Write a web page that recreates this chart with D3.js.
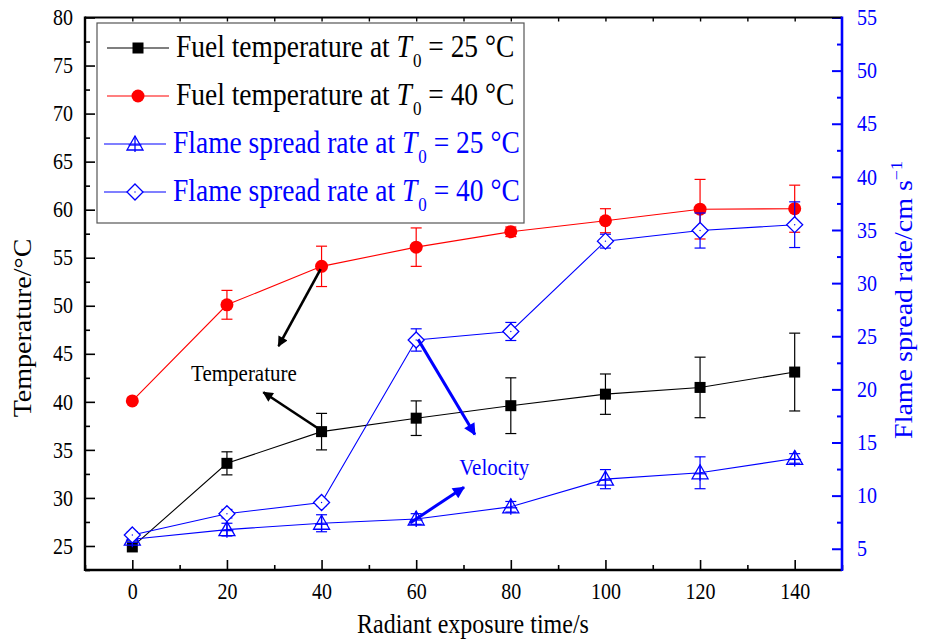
<!DOCTYPE html>
<html>
<head>
<meta charset="utf-8">
<script src="https://cdn.jsdelivr.net/npm/d3@7"></script>
<style>
  html, body { margin: 0; padding: 0; background: #fff; }
  svg { display: block; font-family: "Liberation Serif", "Times New Roman", serif; }
</style>
</head>
<body>
<svg id="chart" width="927" height="642"></svg>
<script>
// Radiant exposure time (s)
const times = [0, 20, 40, 60, 80, 100, 120, 140];

// Fuel temperature (°C), left axis
const fuel25 = [24.9, 33.6, 36.9, 38.3, 39.6, 40.8, 41.5, 43.1];
const fuel25Err = [0, 1.2, 1.9, 1.8, 2.9, 2.1, 3.15, 4.05];
const fuel40 = [40.1, 50.1, 54.1, 56.1, 57.7, 58.85, 60.05, 60.1];
const fuel40Err = [0, 1.5, 2.1, 2.0, 0.5, 1.25, 3.1, 2.45];

// Flame spread rate (cm/s), right axis
const spread25 = [5.9, 6.8, 7.4, 7.8, 8.95, 11.55, 12.15, 13.5];
const spread25Err = [0.3, 0.6, 0.8, 0.5, 0.5, 0.9, 1.5, 0.45];
const spread40 = [6.3, 8.3, 9.35, 24.65, 25.45, 33.95, 34.95, 35.5];
const spread40Err = [0.3, 0.4, 0.3, 1.05, 0.85, 0.65, 1.65, 2.15];

// Axis ticks
const xTicks = [0, 20, 40, 60, 80, 100, 120, 140];
const yLeftTicks = [25, 30, 35, 40, 45, 50, 55, 60, 65, 70, 75, 80];
const yRightTicks = [5, 10, 15, 20, 25, 30, 35, 40, 45, 50, 55];

// Annotation arrows in data units (x: s, y: °C on the left axis)
const annotationArrows = [
  { x1: 39.8, y1: 53.8, x2: 30.9, y2: 45.8, color: "#000" },
  { x1: 39.7, y1: 37.1, x2: 27.7, y2: 41.0, color: "#000" },
  { x1: 60.4, y1: 46.5, x2: 72.4, y2: 36.6, color: "#0000ff" },
  { x1: 58.7, y1: 27.4, x2: 70.1, y2: 31.1, color: "#0000ff" }
];
const annotationLabels = [
  { text: "Temperature", x: 23.6, y: 42.2, color: "#000" },
  { text: "Velocity", x: 76.5, y: 32.4, color: "#0000ff" }
];

const svg = d3.select("#chart");
const pLeft = 85, pRight = 842, pTop = 17.5, pBottom = 570;
const TALL = 1.12; // glyphs are drawn slightly taller than wide

const x = d3.scaleLinear().domain([-10, 150]).range([pLeft, pRight]);
const yL = d3.scaleLinear().domain([22.5, 80]).range([pBottom, pTop]);
const yR = d3.scaleLinear().domain([3, 55]).range([pBottom, pTop]);

const BLUE = "#0000ff", RED = "#ff0000";

// stretch a text element vertically about its own anchor point
function tall(sel) {
  sel.each(function () {
    const t = d3.select(this);
    const ax = +t.attr("x") || 0, ay = +t.attr("y") || 0;
    t.attr("transform", `translate(${ax},${ay}) scale(1,${TALL}) translate(${-ax},${-ay})`);
  });
}

// ---------- axes ----------
function styleAxis(g, color, width) {
  g.select(".domain").remove();
  g.selectAll("line").attr("stroke", color).attr("stroke-width", width);
  g.selectAll("text").attr("fill", color).attr("font-size", 20)
    .attr("font-family", "Liberation Serif, Times New Roman, serif").call(tall);
}

// bottom
svg.append("g").attr("transform", `translate(0,${pBottom})`)
  .call(d3.axisBottom(x).tickValues(xTicks).tickSize(-10).tickPadding(13).tickFormat(d3.format("d")))
  .call(g => styleAxis(g, "#000", 1.6));
svg.append("g").attr("transform", `translate(0,${pBottom})`)
  .call(d3.axisBottom(x).tickValues(d3.range(-10, 151, 10).filter(v => v % 20 !== 0)).tickSize(-5).tickFormat(""))
  .call(g => styleAxis(g, "#000", 1.6));
// top (unlabelled ticks)
svg.append("g").attr("transform", `translate(0,${pTop})`)
  .call(d3.axisTop(x).tickValues(d3.range(0, 141, 10)).tickSize(-4).tickFormat(""))
  .call(g => styleAxis(g, "#000", 1.4));

// left
svg.append("g").attr("transform", `translate(${pLeft},0)`)
  .call(d3.axisLeft(yL).tickValues(yLeftTicks).tickSize(-10).tickPadding(12))
  .call(g => styleAxis(g, "#000", 1.6));
svg.append("g").attr("transform", `translate(${pLeft},0)`)
  .call(d3.axisLeft(yL).tickValues(d3.range(22.5, 80, 5)).tickSize(-5).tickFormat(""))
  .call(g => styleAxis(g, "#000", 1.6));

// right
svg.append("g").attr("transform", `translate(${pRight},0)`)
  .call(d3.axisRight(yR).tickValues(yRightTicks).tickSize(-10).tickPadding(15))
  .call(g => styleAxis(g, BLUE, 2));
svg.append("g").attr("transform", `translate(${pRight},0)`)
  .call(d3.axisRight(yR).tickValues(d3.range(7.5, 55, 5)).tickSize(-5).tickFormat(""))
  .call(g => styleAxis(g, BLUE, 2));

// frame lines
svg.append("line").attr("x1", pLeft).attr("x2", pRight).attr("y1", pTop).attr("y2", pTop)
  .attr("stroke", "#000").attr("stroke-width", 2.2);
svg.append("line").attr("x1", pLeft).attr("x2", pRight).attr("y1", pBottom).attr("y2", pBottom)
  .attr("stroke", "#000").attr("stroke-width", 2.4);
svg.append("line").attr("x1", pLeft).attr("x2", pLeft).attr("y1", pTop - 1).attr("y2", pBottom + 1)
  .attr("stroke", "#000").attr("stroke-width", 2.4);
svg.append("line").attr("x1", pRight).attr("x2", pRight).attr("y1", pTop - 1).attr("y2", pBottom + 1)
  .attr("stroke", BLUE).attr("stroke-width", 2.6);

// axis titles
svg.append("text").attr("x", 473).attr("y", 633)
  .attr("text-anchor", "middle").attr("font-size", 24).text("Radiant exposure time/s").call(tall);
svg.append("text").attr("transform", `translate(31,328) scale(1,${TALL}) rotate(-90)`)
  .attr("text-anchor", "middle").attr("font-size", 25).text("Temperature/°C");
const rt = svg.append("text").attr("transform", `translate(912,300) scale(1,${TALL}) rotate(-90)`)
  .attr("text-anchor", "middle").attr("font-size", 25).attr("fill", BLUE);
rt.append("tspan").text("Flame spread rate/cm s");
rt.append("tspan").attr("dy", -10).attr("font-size", 16).text("−1");

// ---------- marker shapes ----------
function drawMarker(g, kind, cx, cy) {
  if (kind === "square") {
    g.append("rect").attr("x", cx - 5.5).attr("y", cy - 5.5).attr("width", 11).attr("height", 11)
      .attr("fill", "#000");
  } else if (kind === "circle") {
    g.append("circle").attr("cx", cx).attr("cy", cy).attr("r", 6.5).attr("fill", RED);
  } else if (kind === "triangle") {
    const s = 8;
    g.append("path")
      .attr("d", `M${cx},${cy - s} L${cx + s},${cy + s * 0.75} L${cx - s},${cy + s * 0.75} Z`)
      .attr("fill", "none").attr("stroke", BLUE).attr("stroke-width", 1.3);
    g.append("line").attr("x1", cx).attr("x2", cx).attr("y1", cy - s).attr("y2", cy + s)
      .attr("stroke", BLUE).attr("stroke-width", 1.3);
    g.append("line").attr("x1", cx - s * 0.8).attr("x2", cx + s * 0.8).attr("y1", cy + 1).attr("y2", cy + 1)
      .attr("stroke", BLUE).attr("stroke-width", 1.3);
  } else if (kind === "diamond") {
    const s = 8;
    g.append("path")
      .attr("d", `M${cx},${cy - s} L${cx + s},${cy} L${cx},${cy + s} L${cx - s},${cy} Z`)
      .attr("fill", "#fff").attr("stroke", BLUE).attr("stroke-width", 1.3);
    g.append("circle").attr("cx", cx).attr("cy", cy).attr("r", 0.7).attr("fill", BLUE);
  }
}

// ---------- series ----------
const seriesList = [
  { vals: fuel25, err: fuel25Err, y: yL, color: "#000", marker: "square" },
  { vals: fuel40, err: fuel40Err, y: yL, color: RED, marker: "circle" },
  { vals: spread25, err: spread25Err, y: yR, color: BLUE, marker: "triangle" },
  { vals: spread40, err: spread40Err, y: yR, color: BLUE, marker: "diamond" }
];

const plot = svg.append("g");
seriesList.forEach(s => {
  const pts = times.map((t, i) => ({ t, v: s.vals[i], e: s.err[i] }));
  const g = plot.append("g");
  // error bars
  pts.filter(p => p.e > 0).forEach(p => {
    const px = x(p.t), y1 = s.y(p.v + p.e), y2 = s.y(p.v - p.e);
    g.append("line").attr("x1", px).attr("x2", px).attr("y1", y1).attr("y2", y2)
      .attr("stroke", s.color).attr("stroke-width", 1.2);
    [y1, y2].forEach(yy => g.append("line").attr("x1", px - 5.5).attr("x2", px + 5.5)
      .attr("y1", yy).attr("y2", yy).attr("stroke", s.color).attr("stroke-width", 1.2));
  });
  // connecting line
  g.append("path").datum(pts)
    .attr("d", d3.line().x(p => x(p.t)).y(p => s.y(p.v)))
    .attr("fill", "none").attr("stroke", s.color).attr("stroke-width", 1.1);
  // markers
  pts.forEach(p => drawMarker(g, s.marker, x(p.t), s.y(p.v)));
});

// ---------- annotations ----------
const defs = svg.append("defs");
["#000", BLUE].forEach((c, i) => {
  defs.append("marker").attr("id", "ah" + i).attr("viewBox", "0 0 10 10")
    .attr("refX", 9).attr("refY", 5).attr("markerWidth", 5.5).attr("markerHeight", 4)
    .attr("markerUnits", "strokeWidth").attr("orient", "auto")
    .append("path").attr("d", "M0,0 L10,5 L0,10 Z").attr("fill", c);
});
annotationArrows.forEach(a => {
  svg.append("line")
    .attr("x1", x(a.x1)).attr("y1", yL(a.y1)).attr("x2", x(a.x2)).attr("y2", yL(a.y2))
    .attr("stroke", a.color).attr("stroke-width", a.color === "#000" ? 2.6 : 3)
    .attr("marker-end", `url(#ah${a.color === "#000" ? 0 : 1})`);
});
annotationLabels.forEach(l => {
  svg.append("text").attr("x", x(l.x)).attr("y", yL(l.y)).attr("text-anchor", "middle")
    .attr("font-size", 21).attr("fill", l.color).text(l.text).call(tall);
});

// ---------- legend ----------
const lg = svg.append("g");
lg.append("rect").attr("x", 97).attr("y", 23).attr("width", 427).attr("height", 200)
  .attr("fill", "#fff").attr("stroke", "#555").attr("stroke-width", 1.2);
const legendRows = [
  { marker: "square", color: "#000", text: "Fuel temperature at ", tail: " = 25 °C", lx: 107, tx: 176 },
  { marker: "circle", color: RED, textColor: "#000", text: "Fuel temperature at ", tail: " = 40 °C", lx: 107, tx: 176 },
  { marker: "triangle", color: BLUE, text: "Flame spread rate at ", tail: " = 25 °C", lx: 104, tx: 173 },
  { marker: "diamond", color: BLUE, text: "Flame spread rate at ", tail: " = 40 °C", lx: 104, tx: 173 }
];
legendRows.forEach((r, i) => {
  const cy = 48 + i * 48;
  lg.append("line").attr("x1", r.lx).attr("x2", r.lx + 62).attr("y1", cy).attr("y2", cy)
    .attr("stroke", r.color).attr("stroke-width", 1.1);
  drawMarker(lg, r.marker, r.lx + 31, cy);
  const t = lg.append("text").attr("x", r.tx).attr("y", cy + 9).attr("font-size", 27.5)
    .attr("fill", r.textColor || r.color);
  t.append("tspan").text(r.text);
  t.append("tspan").attr("font-style", "italic").text("T");
  t.append("tspan").attr("font-size", 17).attr("dx", 1).attr("dy", 9).text("0");
  t.append("tspan").attr("dy", -9).text(r.tail);
  t.call(tall);
});
</script>
</body>
</html>
